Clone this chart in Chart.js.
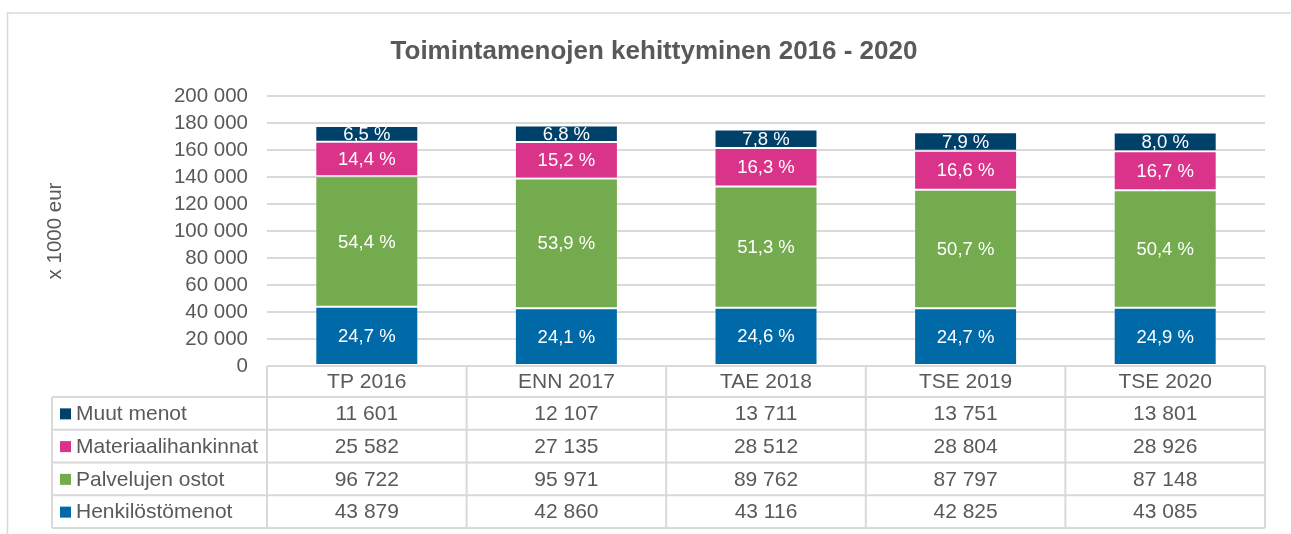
<!DOCTYPE html>
<html>
<head>
<meta charset="utf-8">
<script src="https://cdn.jsdelivr.net/npm/chart.js@4.4.1/dist/chart.umd.min.js"></script>
<style>
  html, body { margin: 0; padding: 0; background: #ffffff; }
  #wrap { width: 1291px; height: 534px; position: relative; }
</style>
</head>
<body>
<div id="wrap"><canvas id="c" width="1291" height="534"></canvas></div>
<script>
// ---- data ----
const categories = ['TP 2016', 'ENN 2017', 'TAE 2018', 'TSE 2019', 'TSE 2020'];
const henkilostomenot = [43879, 42860, 43116, 42825, 43085];
const palvelujenOstot = [96722, 95971, 89762, 87797, 87148];
const materiaalihankinnat = [25582, 27135, 28512, 28804, 28926];
const muutMenot = [11601, 12107, 13711, 13751, 13801];
const seriesNames = ['Henkilöstömenot', 'Palvelujen ostot', 'Materiaalihankinnat', 'Muut menot'];
const yMin = 0, yMax = 200000, yStep = 20000;
const chartTitle = 'Toimintamenojen kehittyminen 2016 - 2020';
const yTitle = 'x 1000 eur';

const colors = ['#006AA8', '#73AB4E', '#D9338A', '#00416A'];
const seriesData = [henkilostomenot, palvelujenOstot, materiaalihankinnat, muutMenot];
const totals = categories.map((_, i) => seriesData.reduce((s, arr) => s + arr[i], 0));

const FONT = "'Liberation Sans', Arial, sans-serif";
const TXT = '#595959';
const GRID = '#D9D9D9';

function fmt(n) {
  return String(n).replace(/\B(?=(\d{3})+(?!\d))/g, ' ');
}

const labelPlugin = {
  id: 'pctLabels',
  afterDatasetsDraw(chart) {
    const ctx = chart.ctx;
    ctx.save();
    ctx.fillStyle = '#ffffff';
    ctx.font = '18.5px ' + FONT;
    ctx.textAlign = 'center';
    ctx.textBaseline = 'middle';
    chart.data.datasets.forEach((ds, di) => {
      const meta = chart.getDatasetMeta(di);
      meta.data.forEach((bar, i) => {
        const v = ds.data[i];
        const pct = (v / totals[i] * 100).toFixed(1).replace('.', ',') + ' %';
        const cy = (bar.y + bar.base) / 2;
        ctx.fillText(pct, bar.x, cy + 1);
      });
    });
    ctx.restore();
  }
};

const tablePlugin = {
  id: 'dataTable',
  afterDraw(chart) {
    const ctx = chart.ctx;
    const ca = chart.chartArea;
    const left = ca.left, right = ca.right, top = ca.bottom;
    const headerH = 31, rowH = 32.75, legendLeft = 52;
    const n = categories.length;
    const colW = (right - left) / n;
    const bottom = top + headerH + rowH * 4;
    ctx.save();
    // outer frame
    ctx.strokeStyle = GRID;
    ctx.lineWidth = 1.5;
    ctx.beginPath();
    ctx.moveTo(7.5, 534);
    ctx.lineTo(7.5, 13);
    ctx.lineTo(1291, 13);
    ctx.stroke();

    ctx.lineWidth = 2;
    ctx.strokeStyle = GRID;
    ctx.beginPath();
    ctx.moveTo(left, top); ctx.lineTo(right, top);
    for (let r = 0; r <= 4; r++) {
      const y = top + headerH + r * rowH;
      ctx.moveTo(legendLeft, y); ctx.lineTo(right, y);
    }
    ctx.moveTo(legendLeft, top + headerH); ctx.lineTo(legendLeft, bottom);
    for (let c = 0; c <= n; c++) {
      const x = left + c * colW;
      ctx.moveTo(x, top); ctx.lineTo(x, bottom);
    }
    ctx.stroke();

    ctx.fillStyle = TXT;
    ctx.font = '21px ' + FONT;
    ctx.textBaseline = 'middle';
    ctx.textAlign = 'center';
    const xs = chart.scales.x;
    categories.forEach((cat, i) => {
      const cx = xs.getPixelForValue(i);
      ctx.fillText(cat, cx, top + headerH / 2 + 1);
    });
    // rows: reverse order of stacking
    const order = [3, 2, 1, 0];
    order.forEach((si, r) => {
      const cy = top + headerH + r * rowH + rowH / 2 + 1;
      ctx.fillStyle = colors[si];
      ctx.fillRect(60, cy - 6, 11, 11);
      ctx.fillStyle = TXT;
      ctx.textAlign = 'left';
      ctx.fillText(seriesNames[si], 76, cy);
      ctx.textAlign = 'center';
      seriesData[si].forEach((v, i) => {
        const cx = xs.getPixelForValue(i);
        ctx.fillText(fmt(v), cx, cy);
      });
    });
    ctx.restore();
  }
};

new Chart(document.getElementById('c'), {
  type: 'bar',
  data: {
    labels: categories,
    datasets: seriesData.map((d, i) => ({
      label: seriesNames[i],
      data: d,
      backgroundColor: colors[i],
      borderColor: 'rgba(255,255,255,0.25)',
      borderWidth: 1,
      borderSkipped: false,
      categoryPercentage: 1,
      barPercentage: 0.516
    }))
  },
  options: {
    responsive: false,
    animation: false,
    devicePixelRatio: 1,
    layout: { padding: { left: 43, right: 26, top: 0, bottom: 168 } },
    plugins: {
      legend: { display: false },
      tooltip: { enabled: false },
      title: {
        display: true,
        text: chartTitle,
        color: TXT,
        font: { family: FONT, size: 26, weight: 'bold' },
        padding: { top: 36, bottom: 28.8 }
      }
    },
    scales: {
      x: {
        stacked: true,
        display: false
      },
      y: {
        stacked: true,
        min: yMin,
        max: yMax,
        afterFit(scale) { scale.width = 224; },
        ticks: {
          stepSize: yStep,
          autoSkip: false,
          color: TXT,
          font: { family: FONT, size: 20.5 },
          padding: 19,
          callback: v => fmt(v)
        },
        grid: { color: GRID, lineWidth: 2, drawTicks: false },
        border: { display: false },
        title: {
          display: true,
          text: yTitle,
          color: TXT,
          font: { family: FONT, size: 20.5 },
          padding: { top: 0, bottom: 0 }
        }
      }
    }
  },
  plugins: [labelPlugin, tablePlugin]
});
</script>
</body>
</html>
